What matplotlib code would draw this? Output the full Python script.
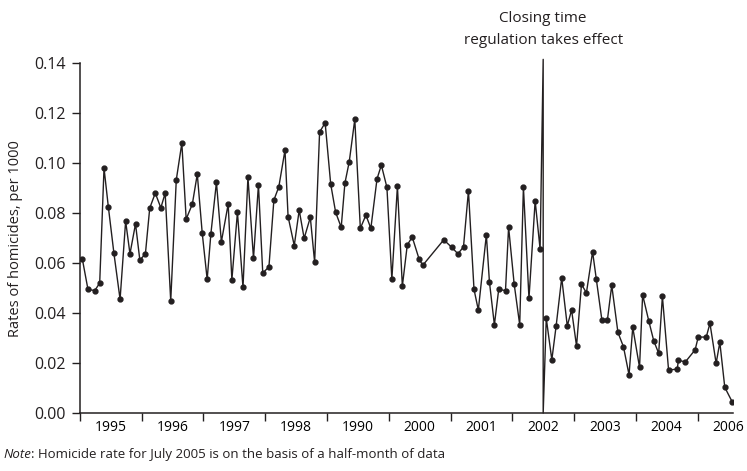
import matplotlib
matplotlib.use('Agg')
import matplotlib.pyplot as plt

plt.rcParams['font.family'] = ['Open Sans', 'DejaVu Sans']

# Monthly homicide rates (decimal year, rate per 1000)
years_before = [
    1995.04, 1995.13, 1995.24, 1995.32, 1995.39, 1995.46, 1995.55, 1995.65, 1995.74, 1995.81,
    1995.90, 1995.97, 1996.06, 1996.13, 1996.22, 1996.31, 1996.38, 1996.47, 1996.56, 1996.65,
    1996.72, 1996.82, 1996.90, 1996.98, 1997.06, 1997.12, 1997.21, 1997.29, 1997.40, 1997.46,
    1997.55, 1997.64, 1997.72, 1997.81, 1997.89, 1997.96, 1998.06, 1998.14, 1998.22, 1998.32,
    1998.37, 1998.47, 1998.55, 1998.63, 1998.73, 1998.80, 1998.88, 1998.97, 1999.06, 1999.14,
    1999.23, 1999.29, 1999.36, 1999.45, 1999.54, 1999.63, 1999.71, 1999.81, 1999.88, 1999.97,
    2000.05, 2000.14, 2000.22, 2000.30, 2000.38, 2000.49, 2000.55, 2000.89, 2001.02, 2001.12,
    2001.21, 2001.29, 2001.38, 2001.45, 2001.58, 2001.63, 2001.71, 2001.78, 2001.89, 2001.94,
    2002.03, 2002.12, 2002.18, 2002.27, 2002.37, 2002.45,
]
rates_before = [
    0.0615, 0.0495, 0.0490, 0.0520, 0.0980, 0.0825, 0.0640, 0.0455, 0.0768, 0.0637,
    0.0757, 0.0612, 0.0637, 0.0820, 0.0880, 0.0821, 0.0880, 0.0448, 0.0933, 0.1080,
    0.0776, 0.0836, 0.0956, 0.0720, 0.0535, 0.0717, 0.0923, 0.0685, 0.0836, 0.0533,
    0.0803, 0.0503, 0.0944, 0.0619, 0.0913, 0.0560, 0.0585, 0.0852, 0.0905, 0.1052,
    0.0786, 0.0670, 0.0812, 0.0699, 0.0783, 0.0603, 0.1124, 0.1161, 0.0916, 0.0803,
    0.0743, 0.0920, 0.1005, 0.1175, 0.0739, 0.0792, 0.0739, 0.0937, 0.0992, 0.0903,
    0.0535, 0.0907, 0.0508, 0.0673, 0.0704, 0.0617, 0.0591, 0.0693, 0.0663, 0.0637,
    0.0665, 0.0889, 0.0495, 0.0412, 0.0713, 0.0524, 0.0353, 0.0495, 0.0490, 0.0744,
    0.0517, 0.0353, 0.0904, 0.0459, 0.0849, 0.0656,
]
years_after = [
    2002.55, 2002.64, 2002.71, 2002.80, 2002.89, 2002.96, 2003.04, 2003.12, 2003.20, 2003.30,
    2003.36, 2003.45, 2003.54, 2003.61, 2003.71, 2003.80, 2003.89, 2003.95, 2004.06, 2004.11,
    2004.21, 2004.29, 2004.37, 2004.43, 2004.53, 2004.67, 2004.69, 2004.80, 2004.96, 2005.01,
    2005.14, 2005.20, 2005.30, 2005.36, 2005.44, 2005.56,
]
rates_after = [
    0.0379, 0.0213, 0.0349, 0.0541, 0.0349, 0.0412, 0.0268, 0.0515, 0.0481, 0.0645,
    0.0536, 0.0373, 0.0373, 0.0511, 0.0323, 0.0265, 0.0153, 0.0343, 0.0183, 0.0473,
    0.0368, 0.0289, 0.0239, 0.0467, 0.0172, 0.0176, 0.0212, 0.0204, 0.0253, 0.0304,
    0.0304, 0.0359, 0.0199, 0.0283, 0.0103, 0.0045,
]
regulation_year = 2002.50
year_labels = ['1995', '1996', '1997', '1998', '1990', '2000', '2001', '2002', '2003', '2004', '2006']

fig = plt.figure(figsize=(7.47, 4.71), dpi=100)
ax = fig.add_axes([0.107, 0.123, 0.874, 0.743])

# line runs up and down the regulation marker, as in the original
line_x = years_before + [regulation_year, regulation_year] + years_after
line_y = rates_before + [0.1415, 0.0] + rates_after
ax.plot(line_x, line_y, color='#231f20', lw=1.0, clip_on=False, zorder=2)
ax.plot(years_before + years_after, rates_before + rates_after, linestyle='none',
        marker='o', markersize=3.5, color='#231f20', zorder=3)

ax.set_xlim(1995, 2005.57)
ax.set_ylim(0, 0.14)
ax.set_yticks([0.0, 0.02, 0.04, 0.06, 0.08, 0.10, 0.12, 0.14])
ax.set_yticklabels(['%.2f' % v for v in ax.get_yticks()])
ax.set_xticks(range(1995, 2006))
ax.set_xticklabels([])
ax.set_xticks([1995.5 + i for i in range(len(year_labels))], minor=True)
ax.set_xticklabels(year_labels, minor=True)
ax.tick_params(axis='x', which='minor', length=0, pad=5)
ax.tick_params(axis='x', which='major', length=6, width=1, color='#231f20')
ax.tick_params(axis='y', length=6, width=1, color='#231f20', pad=4)
ax.tick_params(labelsize=11.5, labelcolor='#231f20')

for side in ['top', 'right']:
    ax.spines[side].set_visible(False)
for side in ['left', 'bottom']:
    ax.spines[side].set_color('#231f20')
    ax.spines[side].set_linewidth(1.1)

ax.set_ylabel('Rates of homicides, per 1000', fontsize=10.5, color='#231f20', labelpad=8)

ax.text(regulation_year, 0.1462, 'Closing time\nregulation takes effect', ha='center', va='bottom',
        fontsize=11, color='#231f20', linespacing=1.6)

note = fig.text(0.004, 0.028, 'Note', fontsize=9.5, style='italic', color='#231f20')
ax.annotate(': Homicide rate for July 2005 is on the basis of a half-month of data',
            xy=(1, 0), xycoords=note, va='bottom', ha='left', fontsize=9.5, color='#231f20')

fig.savefig('out.png', dpi=100)
